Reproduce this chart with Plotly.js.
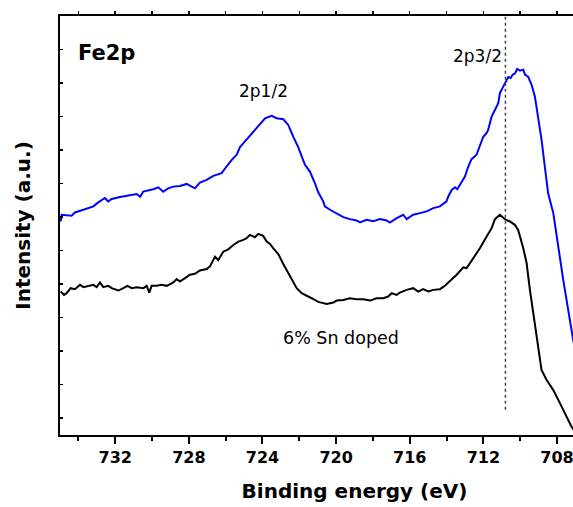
<!DOCTYPE html>
<html>
<head>
<meta charset="utf-8">
<script src="https://cdn.plot.ly/plotly-3.0.1.min.js"></script>
<style>
  html, body { margin: 0; padding: 0; overflow: hidden; background: #fff; }
  #chart { width: 663px; height: 507px; }
</style>
</head>
<body>
<div id="chart"></div>
<script>
// Fe 2p XPS spectra (binding energy in eV, intensity in arbitrary units, offset)
const pristineBE = [734.96, 734.91, 734.37, 734.19, 733.73, 733.19, 732.92, 732.56, 732.38, 732.19,
  731.74, 731.38, 730.83, 730.65, 730.48, 729.93, 729.66, 729.39, 729.12, 728.85,
  728.48, 728.12, 727.67, 727.40, 727.03, 726.67, 726.22, 725.95, 725.67, 725.40,
  725.22, 724.95, 724.50, 724.14, 723.86, 723.50, 723.23, 722.87, 722.60, 722.33,
  722.06, 721.69, 721.42, 721.15, 720.97, 720.70, 720.61, 720.33, 719.97, 719.61,
  719.25, 718.89, 718.70, 718.34, 717.98, 717.62, 717.26, 717.08, 716.71, 716.35,
  716.17, 715.81, 715.45, 715.08, 714.72, 714.36, 714.00, 713.91, 713.72, 713.54,
  713.42, 713.27, 713.00, 712.82, 712.64, 712.37, 712.19, 712.01, 711.82, 711.74,
  711.55, 711.37, 711.19, 711.10, 710.92, 710.77, 710.65, 710.52, 710.41, 710.29,
  710.16, 710.01, 709.83, 709.74, 709.56, 709.38, 709.20, 709.02, 708.84, 708.66,
  708.48, 708.20, 707.66, 707.12, 706.90];
const pristineI = [5.87, 6.07, 6.04, 6.14, 6.22, 6.32, 6.44, 6.57, 6.47, 6.54,
  6.60, 6.63, 6.69, 6.61, 6.76, 6.83, 6.89, 6.76, 6.86, 6.91,
  6.93, 6.99, 6.86, 7.03, 7.11, 7.23, 7.31, 7.51, 7.71, 7.86,
  8.09, 8.26, 8.55, 8.75, 8.95, 9.02, 8.95, 8.92, 8.75, 8.40,
  8.09, 7.56, 7.36, 7.01, 6.74, 6.47, 6.32, 6.22, 6.12, 6.00,
  5.94, 5.90, 5.84, 5.92, 5.88, 5.94, 5.90, 5.84, 5.97, 6.07,
  5.94, 6.07, 6.12, 6.17, 6.27, 6.32, 6.47, 6.61, 6.81, 6.89,
  6.83, 6.96, 7.21, 7.51, 7.73, 7.86, 8.16, 8.39, 8.51, 8.60,
  9.00, 9.20, 9.40, 9.70, 9.92, 10.05, 10.18, 10.15, 10.25, 10.28,
  10.42, 10.37, 10.40, 10.25, 10.18, 9.95, 9.60, 9.00, 8.31, 7.51,
  6.71, 6.12, 4.13, 2.34, 1.70];

const dopedBE = [734.96, 734.78, 734.64, 734.42, 734.19, 733.91, 733.73, 733.46, 733.19, 733.01,
  732.83, 732.65, 732.38, 732.19, 731.83, 731.56, 731.34, 731.10, 730.83, 730.47,
  730.29, 730.15, 730.02, 729.75, 729.48, 729.20, 728.84, 728.66, 728.48, 728.21,
  727.94, 727.67, 727.40, 727.03, 726.85, 726.58, 726.40, 726.13, 725.86, 725.58,
  725.31, 725.04, 724.86, 724.68, 724.41, 724.23, 723.96, 723.77, 723.59, 723.41,
  723.14, 722.87, 722.60, 722.33, 722.14, 721.87, 721.60, 721.33, 720.97, 720.51,
  720.15, 719.97, 719.61, 719.25, 718.89, 718.52, 718.16, 717.80, 717.44, 717.17,
  716.98, 716.71, 716.53, 716.17, 715.81, 715.54, 715.27, 714.99, 714.72, 714.36,
  714.09, 713.82, 713.45, 713.09, 712.91, 712.55, 712.19, 711.82, 711.55, 711.37,
  711.10, 710.83, 710.56, 710.29, 710.11, 709.83, 709.65, 709.47, 709.29, 709.11,
  708.84, 708.56, 708.20, 707.84, 707.48, 707.21, 706.95];
const dopedI = [3.78, 3.68, 3.73, 3.88, 3.85, 3.98, 3.91, 3.95, 3.98, 3.91,
  4.05, 3.91, 3.95, 3.88, 3.81, 3.88, 3.95, 3.88, 3.91, 3.88,
  3.95, 3.75, 3.95, 3.95, 3.98, 3.95, 4.05, 4.15, 4.08, 4.18,
  4.28, 4.31, 4.41, 4.45, 4.53, 4.82, 4.72, 4.97, 5.04, 5.17,
  5.27, 5.32, 5.37, 5.47, 5.40, 5.50, 5.44, 5.27, 5.20, 5.07,
  4.90, 4.60, 4.33, 4.03, 3.88, 3.73, 3.66, 3.58, 3.47, 3.41,
  3.45, 3.51, 3.53, 3.58, 3.55, 3.55, 3.51, 3.58, 3.58, 3.63,
  3.73, 3.68, 3.75, 3.83, 3.88, 3.78, 3.85, 3.78, 3.83, 3.85,
  3.95, 4.08, 4.28, 4.50, 4.48, 4.77, 5.07, 5.42, 5.67, 5.94,
  6.07, 5.94, 5.87, 5.77, 5.62, 5.07, 4.63, 3.83, 3.13, 2.34,
  1.44, 1.14, 0.84, 0.45, 0.05, -0.25, -0.45];

// Fe 2p3/2 reference position
const peakRefBE = 710.8;

const peakLabels = ['2p1/2', '2p3/2'];
const peakLabelBE = [723.95, 712.3];
const peakLabelI = [9.77, 10.81];

const titleFont = { family: 'DejaVu Sans', size: 20, color: '#000', weight: 700 };
const tickFont = { family: 'DejaVu Sans', size: 16, color: '#000', weight: 700 };
const noteFont = { family: 'DejaVu Sans', size: 17, color: '#000' };

const traces = [
  { x: pristineBE, y: pristineI, type: 'scatter', mode: 'lines',
    line: { color: '#0000ff', width: 2 }, hoverinfo: 'skip', showlegend: false },
  { x: dopedBE, y: dopedI, type: 'scatter', mode: 'lines',
    line: { color: '#000000', width: 2 }, hoverinfo: 'skip', showlegend: false },
  // empty trace so the top frame axis is drawn
  { x: [], y: [], xaxis: 'x2', yaxis: 'y', type: 'scatter', mode: 'lines',
    showlegend: false, hoverinfo: 'skip' }
];

const annotations = peakLabels.map((t, i) => ({
  text: t, x: peakLabelBE[i], y: peakLabelI[i], xref: 'x', yref: 'y',
  showarrow: false, xanchor: 'center', yanchor: 'middle', font: noteFont
}));
annotations.push({
  text: 'Fe2p', x: 734.13, y: 10.9, xref: 'x', yref: 'y', showarrow: false,
  xanchor: 'left', yanchor: 'middle',
  font: { family: 'DejaVu Sans', size: 21, color: '#000', weight: 700 }
});
annotations.push({
  text: '6% Sn doped', x: 719.76, y: 2.40, xref: 'x', yref: 'y', showarrow: false,
  xanchor: 'center', yanchor: 'middle', font: { family: 'DejaVu Sans', size: 17.5, color: '#000' }
});

const layout = {
  width: 663, height: 507,
  margin: { l: 60, r: 14, t: 16, b: 72 },
  paper_bgcolor: '#fff', plot_bgcolor: '#fff',
  xaxis: {
    range: [735, 703], tick0: 0, dtick: 4,
    ticks: 'outside', ticklen: 7, tickwidth: 2, tickcolor: '#000',
    minor: { dtick: 2, tick0: 0, ticks: 'outside', ticklen: 4, tickwidth: 2, tickcolor: '#000' },
    showline: true, linewidth: 2, linecolor: '#000',
    showgrid: false, zeroline: false, automargin: false,
    tickfont: tickFont,
    title: { text: 'Binding energy (eV)', font: titleFont, standoff: 18 }
  },
  xaxis2: {
    overlaying: 'x', matches: 'x', side: 'top', anchor: 'y',
    range: [735, 703], tick0: 0, dtick: 2,
    ticks: 'outside', ticklen: 3, tickwidth: 1.5, tickcolor: '#000',
    showticklabels: false, showline: true, linewidth: 2, linecolor: '#000',
    showgrid: false, zeroline: false, automargin: false
  },
  yaxis: {
    range: [-0.5, 12], tick0: 0, dtick: 1,
    ticks: 'inside', ticklen: 3, tickwidth: 1.5, tickcolor: '#000',
    showticklabels: false, showline: true, linewidth: 2, linecolor: '#000',
    mirror: true, showgrid: false, zeroline: false, automargin: false,
    title: { text: 'Intensity (a.u.)', font: titleFont, standoff: 22 }
  },
  shapes: [{
    type: 'line', xref: 'x', yref: 'y', x0: peakRefBE, x1: peakRefBE, y0: 0.25, y1: 12,
    line: { color: '#444', width: 1.5, dash: 'dot' }
  }],
  annotations: annotations
};

Plotly.newPlot('chart', traces, layout, { staticPlot: true, displayModeBar: false });
</script>
</body>
</html>
